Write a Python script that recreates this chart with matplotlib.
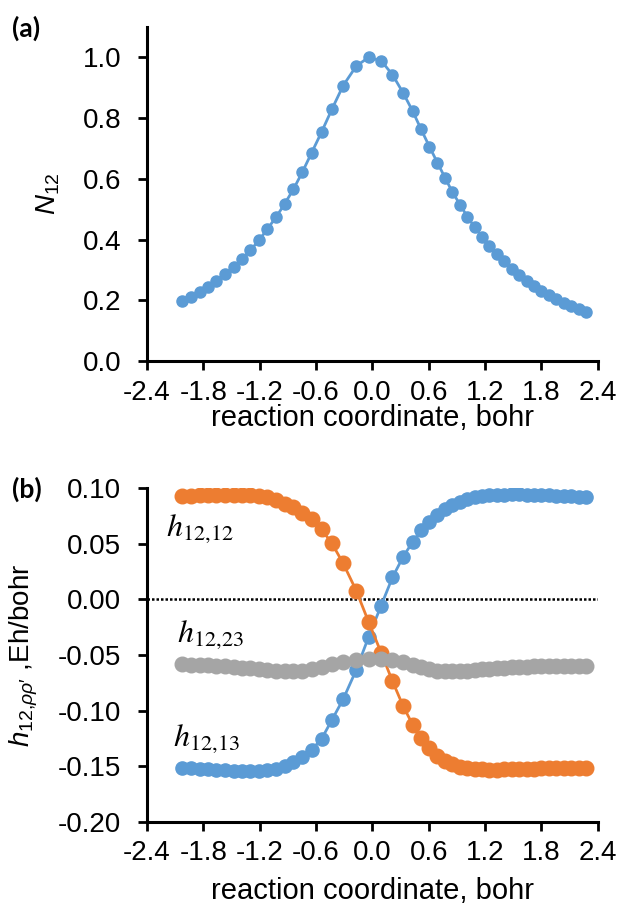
import matplotlib
matplotlib.use("Agg")
import matplotlib.pyplot as plt
from matplotlib.ticker import MultipleLocator, FormatStrFormatter

plt.rcParams['font.family'] = ['Liberation Sans', 'DejaVu Sans']
plt.rcParams['axes.unicode_minus'] = False
plt.rcParams['mathtext.fontset'] = 'custom'
plt.rcParams['mathtext.rm'] = 'Liberation Sans'
plt.rcParams['mathtext.it'] = 'Liberation Sans:italic'
plt.rcParams['mathtext.bf'] = 'Liberation Sans:bold'

# ---- data ----
rc = [-2.027, -1.932, -1.840, -1.751, -1.662, -1.574, -1.478, -1.389, -1.301, -1.208,
      -1.120, -1.027, -0.935, -0.840, -0.744, -0.648, -0.541, -0.431, -0.311, -0.172,
      -0.041, 0.094, 0.214, 0.328, 0.431, 0.519, 0.608, 0.693, 0.775, 0.853,
      0.934, 1.012, 1.091, 1.169, 1.246, 1.325, 1.406, 1.488, 1.566, 1.644,
      1.722, 1.800, 1.882, 1.959, 2.038, 2.119, 2.201, 2.275]

N12 = [0.198, 0.212, 0.226, 0.244, 0.264, 0.285, 0.310, 0.336, 0.364, 0.397,
       0.434, 0.473, 0.517, 0.566, 0.623, 0.685, 0.754, 0.829, 0.907, 0.971,
       1.000, 0.989, 0.943, 0.883, 0.822, 0.763, 0.706, 0.653, 0.603, 0.556,
       0.515, 0.475, 0.440, 0.409, 0.380, 0.352, 0.328, 0.304, 0.283, 0.264,
       0.247, 0.231, 0.217, 0.204, 0.192, 0.181, 0.170, 0.160]

h12_12 = [0.0930, 0.0935, 0.0938, 0.0941, 0.0943, 0.0944, 0.0944, 0.0942, 0.0938, 0.0931,
          0.0918, 0.0895, 0.0862, 0.0830, 0.0780, 0.0720, 0.0630, 0.0505, 0.0325, 0.0080,
          -0.0200, -0.0480, -0.0735, -0.0960, -0.1130, -0.1250, -0.1340, -0.1410, -0.1455, -0.1485,
          -0.1505, -0.1518, -0.1526, -0.1530, -0.1532, -0.1532, -0.1530, -0.1528, -0.1526, -0.1524,
          -0.1522, -0.1520, -0.1518, -0.1517, -0.1516, -0.1515, -0.1514, -0.1513]

h12_13 = [-0.1514, -0.1518, -0.1522, -0.1527, -0.1532, -0.1536, -0.1540, -0.1542, -0.1543, -0.1542,
          -0.1537, -0.1525, -0.1500, -0.1465, -0.1415, -0.1355, -0.1255, -0.1085, -0.0898, -0.0635,
          -0.0340, -0.0055, 0.0198, 0.0384, 0.0520, 0.0622, 0.0700, 0.0762, 0.0812, 0.0850,
          0.0880, 0.0902, 0.0918, 0.0930, 0.0937, 0.0941, 0.0944, 0.0945, 0.0945, 0.0944,
          0.0942, 0.0940, 0.0937, 0.0934, 0.0930, 0.0927, 0.0924, 0.0921]

h12_23 = [-0.0584, -0.0586, -0.0589, -0.0592, -0.0596, -0.0601, -0.0607, -0.0614, -0.0621, -0.0628,
          -0.0635, -0.0641, -0.0645, -0.0646, -0.0642, -0.0630, -0.0610, -0.0585, -0.0562, -0.0545,
          -0.0540, -0.0532, -0.0542, -0.0560, -0.0588, -0.0612, -0.0630, -0.0641, -0.0646, -0.0647,
          -0.0645, -0.0641, -0.0636, -0.0630, -0.0624, -0.0619, -0.0614, -0.0610, -0.0607, -0.0604,
          -0.0601, -0.0599, -0.0598, -0.0597, -0.0597, -0.0597, -0.0597, -0.0597]

x_ticks = [-2.4, -1.8, -1.2, -0.6, 0.0, 0.6, 1.2, 1.8, 2.4]

BLUE = '#5B9BD5'
ORANGE = '#ED7D31'
GRAY = '#A5A5A5'

W, H = 623, 913
fig = plt.figure(figsize=(W / 100, H / 100), dpi=100)

def px_axes(l, r, t, b):
    return fig.add_axes([l / W, 1 - b / H, (r - l) / W, (b - t) / H])

FS = 20

def style(ax):
    for s in ['top', 'right']:
        ax.spines[s].set_visible(False)
    for s in ['left', 'bottom']:
        ax.spines[s].set_linewidth(2.2)
    ax.tick_params(axis='both', which='major', direction='out', length=6.5, width=2.0,
                   labelsize=FS, color='black')
    ax.tick_params(axis='y', pad=12)
    ax.tick_params(axis='x', pad=7)
    ax.set_xlim(-2.4, 2.4)
    ax.set_xticks(x_ticks)
    ax.xaxis.set_major_formatter(FormatStrFormatter('%.1f'))

# ---- panel (a) ----
ax1 = px_axes(147, 597.7, 27, 361)
style(ax1)
ax1.plot(rc, N12, '-o', color=BLUE, lw=2.0, ms=8, mec=BLUE, mfc=BLUE)
ax1.set_ylim(0, 1.1)
ax1.yaxis.set_major_locator(MultipleLocator(0.2))
ax1.yaxis.set_major_formatter(FormatStrFormatter('%.1f'))
ax1.set_ylabel(r'$\mathit{N}_{12}$', fontsize=FS)
ax1.yaxis.set_label_coords(-0.189, 0.5)
ax1.set_xlabel('reaction coordinate, bohr', fontsize=21)
ax1.xaxis.set_label_coords(0.5, -0.128)

# ---- panel (b) ----
ax2 = px_axes(147, 597.7, 488.3, 821.7)
style(ax2)
ax2.axhline(0, color='black', lw=1.8, ls=(0, (1, 0.8)), zorder=1)
ax2.plot(rc, h12_13, '-o', color=BLUE, lw=2.0, ms=9.5, mec=BLUE, mfc=BLUE, zorder=2)
ax2.plot(rc, h12_12, '-o', color=ORANGE, lw=2.0, ms=10.5, mec=ORANGE, mfc=ORANGE, zorder=3)
ax2.plot(rc, h12_23, '-o', color=GRAY, lw=2.0, ms=10.5, mec=GRAY, mfc=GRAY, zorder=4)
ax2.set_ylim(-0.2, 0.1)
ax2.yaxis.set_major_locator(MultipleLocator(0.05))
ax2.yaxis.set_major_formatter(FormatStrFormatter('%.2f'))
ax2.set_ylabel(r"$\mathit{h}_{12{,}\rho\rho\prime}$ ,Eh/bohr", fontsize=FS)
ax2.yaxis.set_label_coords(-0.237, 0.5)
ax2.set_xlabel('reaction coordinate, bohr', fontsize=21)
ax2.xaxis.set_label_coords(0.5, -0.165)

ax2.text(-2.2, 0.0633, r'$h_{12{,}12}$', math_fontfamily='stix', fontsize=23,
         ha='left', va='center')
ax2.text(-2.08, -0.032, r'$h_{12{,}23}$', math_fontfamily='stix', fontsize=23,
         ha='left', va='center')
ax2.text(-2.12, -0.1256, r'$h_{12{,}13}$', math_fontfamily='stix', fontsize=23,
         ha='left', va='center')

fig.text(12 / W, 1 - 28 / H, '(a)', fontsize=19, fontweight='bold', family='Lato',
         ha='left', va='center')
fig.text(12 / W, 1 - 489 / H, '(b)', fontsize=19, fontweight='bold', family='Lato',
         ha='left', va='center')

fig.savefig('out.png', dpi=100)
